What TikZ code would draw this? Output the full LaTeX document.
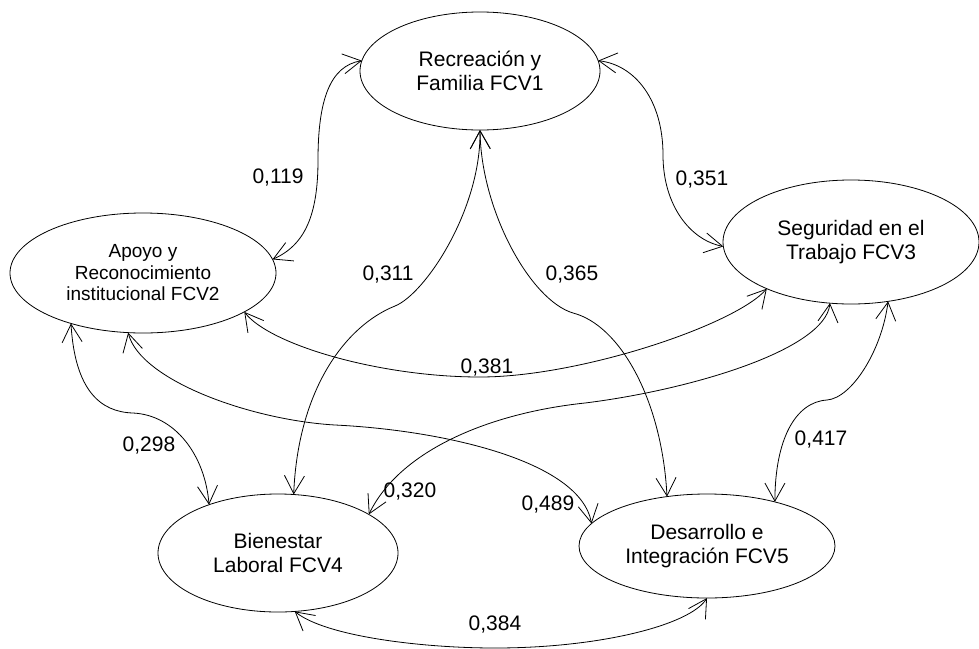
\documentclass[tikz,border=0pt]{standalone}
\usepackage{fontspec}
\setmainfont{Liberation Sans}
\usetikzlibrary{shapes.geometric,arrows.meta}
\begin{document}
\begin{tikzpicture}[x=1pt,y=-1pt,
  factor/.style={ellipse,draw,line width=0.8pt,inner sep=0pt,outer sep=0pt,align=center,font=\fontsize{21}{24}\selectfont},
  corr/.style={line width=0.8pt,{Straight Barb[length=18pt,width=20pt]}-{Straight Barb[length=18pt,width=20pt]}},
  lbl/.style={font=\fontsize{21}{24}\selectfont,inner sep=0pt,anchor=base}]
\useasboundingbox (0,0) rectangle (979,648);
\node[factor,minimum width=240pt,minimum height=118pt] (f1) at (480,71) {Recreación y\\Familia FCV1};
\node[factor,minimum width=266pt,minimum height=120pt,font=\fontsize{19}{21.5}\selectfont] (f2) at (143,273) {Apoyo y\\Reconocimiento\\institucional FCV2};
\node[factor,minimum width=256pt,minimum height=124pt] (f3) at (851,242) {Seguridad en el\\Trabajo FCV3};
\node[factor,minimum width=240pt,minimum height=118pt] (f4) at (278,553) {Bienestar\\Laboral FCV4};
\node[factor,minimum width=256pt,minimum height=104pt] (f5) at (707,546) {Desarrollo e\\Integración FCV5};
\coordinate (m12) at (318,160);
\coordinate (m13) at (663,155);
\coordinate (m14) at (395,306);
\coordinate (m15) at (573,313);
\coordinate (m23) at (480,377);
\coordinate (m24) at (133,413);
\coordinate (m25) at (335,425);
\coordinate (m34) at (585,403);
\coordinate (m35) at (827,400);
\coordinate (m45) at (495,648);
% 0,119
\draw[corr] (f1.175) .. controls (330,66) and (318,100) .. (m12) .. controls (318,215) and (305,245) .. (f2.6);
% 0,351
\draw[corr] (f1.5) .. controls (635,65) and (663,100) .. (m13) .. controls (663,205) and (690,240) .. (f3.182);
% 0,311
\draw[corr] (f1.270) .. controls (481,210) and (425,294) .. (m14) .. controls (345,326) and (298,390) .. (f4.75);
% 0,365
\draw[corr] (f1.270) .. controls (481,210) and (530,300) .. (m15) .. controls (620,325) and (662,400) .. (f5.129);
% 0,381
\draw[corr] (f2.339) .. controls (270,345) and (380,377) .. (m23) .. controls (580,377) and (735,325) .. (f3.209);
% 0,298
\draw[corr] (f2.215) .. controls (75,390) and (100,412) .. (m24) .. controls (175,415) and (205,455) .. (f4.145);
% 0,489
\draw[corr] (f2.256) .. controls (140,380) and (250,420) .. (m25) .. controls (440,430) and (580,460) .. (f5.169);
% 0,320
\draw[corr] (f3.251) .. controls (825,350) and (690,390) .. (m34) .. controls (490,413) and (400,450) .. (f4.23);
% 0,417
\draw[corr] (f3.302) .. controls (882,350) and (852,398) .. (m35) .. controls (795,402) and (775,440) .. (f5.33);
% 0,384
\draw[corr] (f4.286) .. controls (325,636) and (420,648) .. (m45) .. controls (600,648) and (690,625) .. (f5.270);
\node[lbl] (l1) at (278,183) {0,119};
\node[lbl] (l2) at (388,280) {0,311};
\node[lbl] (l3) at (572,280) {0,365};
\node[lbl] (l4) at (702,185) {0,351};
\node[lbl] (l5) at (487,373) {0,381};
\node[lbl] (l6) at (149,451) {0,298};
\node[lbl] (l7) at (410,497) {0,320};
\node[lbl] (l8) at (548,510) {0,489};
\node[lbl] (l9) at (821,445) {0,417};
\node[lbl] (l10) at (495,630) {0,384};
\end{tikzpicture}
\end{document}
